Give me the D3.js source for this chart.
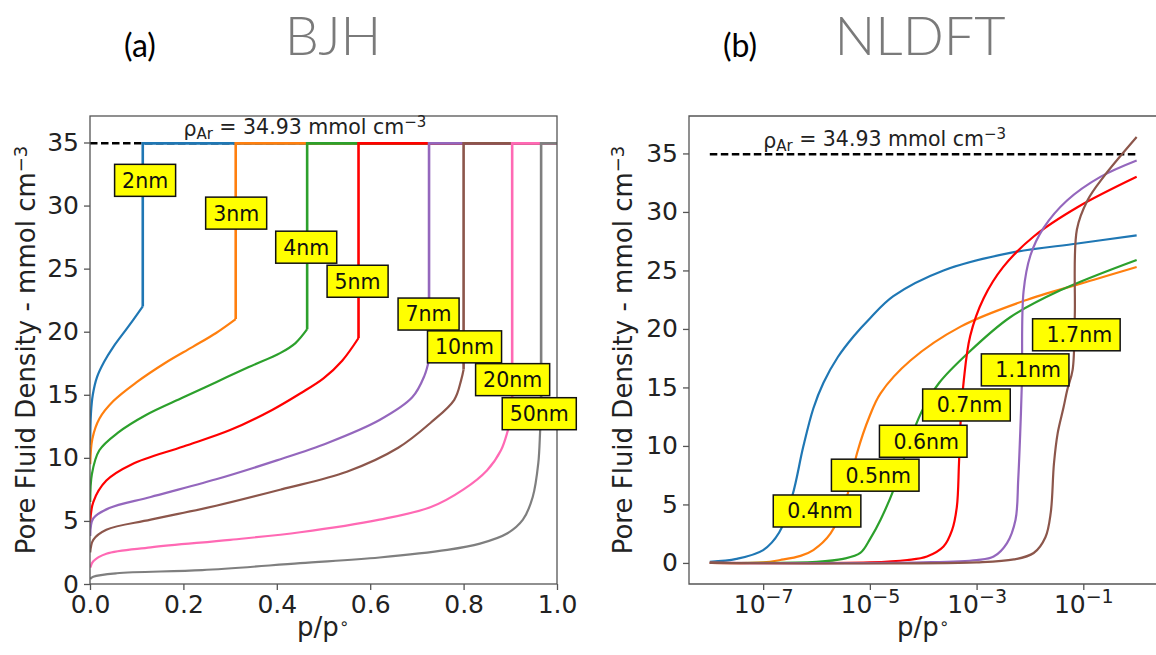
<!DOCTYPE html>
<html>
<head>
<meta charset="utf-8">
<script src="https://cdn.jsdelivr.net/npm/d3@7"></script>
<style>
  body { margin: 0; background: #fff; }
  svg { display: block; }
  text { font-family: "DejaVu Sans", Verdana, sans-serif; }
</style>
</head>
<body>
<div id="container"></div>
<script>
// DATA
// (a) BJH: pore size labels, pore filling pressures and isotherm points [p/p0, density]
const bjhPores = ['2nm', '3nm', '4nm', '5nm', '7nm', '10nm', '20nm', '50nm'];
const bjhColors = ['#1f77b4', '#ff7f0e', '#2ca02c', '#ff0000', '#9467bd', '#8c564b', '#ff69b4', '#7f7f7f'];
const bjhFilling = [0.113, 0.312, 0.465, 0.575, 0.726, 0.80, 0.904, 0.966];
const bjh2nm = [[0.0005, 11], [0.002, 13.5], [0.006, 15], [0.015, 16.4], [0.03, 17.6], [0.05, 18.8], [0.08, 20.3], [0.113, 22]];
const bjh3nm = [[0.0005, 9.5], [0.005, 11.5], [0.02, 13.1], [0.05, 14.5], [0.1, 16.0], [0.16, 17.5], [0.22, 18.8], [0.27, 19.9], [0.312, 21]];
const bjh4nm = [[0.0005, 6.5], [0.004, 8.7], [0.02, 10.6], [0.06, 12.0], [0.12, 13.4], [0.2, 14.8], [0.27, 16.0], [0.34, 17.2], [0.407, 18.3], [0.44, 19.1], [0.465, 20.2]];
const bjh5nm = [[0.0005, 4.8], [0.007, 6.5], [0.035, 8.2], [0.09, 9.5], [0.2, 10.9], [0.3, 12.2], [0.39, 13.8], [0.45, 15.1], [0.5, 16.3], [0.54, 17.7], [0.575, 19.5]];
const bjh7nm = [[0.0005, 3.8], [0.007, 5.2], [0.04, 6.0], [0.13, 6.9], [0.27, 8.3], [0.4, 9.8], [0.51, 11.2], [0.62, 13.0], [0.69, 14.8], [0.716, 16.5], [0.726, 17.8]];
const bjh10nm = [[0.0005, 2.5], [0.007, 3.5], [0.035, 4.3], [0.13, 5.1], [0.27, 6.2], [0.41, 7.5], [0.55, 8.9], [0.66, 10.8], [0.73, 12.8], [0.78, 14.6], [0.795, 16.2], [0.80, 17]];
const bjh20nm = [[0.0005, 1.3], [0.007, 1.8], [0.035, 2.4], [0.13, 2.9], [0.3, 3.5], [0.45, 4.1], [0.62, 5.1], [0.73, 6.1], [0.80, 7.5], [0.85, 9.0], [0.88, 10.6], [0.895, 12.2], [0.904, 13.5]];
const bjh50nm = [[0.0005, 0.4], [0.007, 0.58], [0.057, 0.85], [0.24, 1.1], [0.45, 1.65], [0.62, 2.1], [0.765, 2.7], [0.835, 3.2], [0.893, 4.0], [0.927, 5.1], [0.948, 6.9], [0.96, 9.6], [0.964, 12.2], [0.966, 13.5]];
const bjhCurves = [bjh2nm, bjh3nm, bjh4nm, bjh5nm, bjh7nm, bjh10nm, bjh20nm, bjh50nm];
const bjhLabelAt = [[0.118, 32], [0.313, 29.4], [0.463, 26.7], [0.573, 24], [0.725, 21.4], [0.802, 18.8], [0.905, 16.2], [0.962, 13.5]];

// (b) NLDFT: isotherm points [log10(p/p0), density]
const dftPores = ['0.4nm', '0.5nm', '0.6nm', '0.7nm', '1.1nm', '1.7nm'];
const dftColors = ['#1f77b4', '#ff7f0e', '#2ca02c', '#ff0000', '#9467bd', '#8c564b'];
const dft04 = [[-8, 0.1], [-7.5, 0.35], [-7, 1.1], [-6.7, 2.6], [-6.45, 5.8], [-6.25, 9.9], [-6.06, 13.2], [-5.87, 15.4], [-5.6, 17.6], [-5.3, 19.4], [-5, 20.9], [-4.56, 22.8], [-3.62, 25], [-2.37, 26.5], [-1.11, 27.3], [0, 28]];
const dft05 = [[-8, 0], [-7, 0.05], [-6.68, 0.25], [-6.3, 0.6], [-6.06, 1.1], [-5.74, 2.5], [-5.43, 5.7], [-5.24, 9.4], [-5.0, 12.6], [-4.8, 14.5], [-4.24, 17.3], [-3.3, 20.2], [-2.05, 22.5], [-0.8, 24.2], [0, 25.3]];
const dft06 = [[-8, 0], [-6, 0.1], [-5.5, 0.35], [-5.18, 0.85], [-4.99, 2.1], [-4.8, 3.7], [-4.56, 6.2], [-4.37, 8.8], [-4.19, 11.2], [-4.0, 13.2], [-3.7, 15.4], [-3.17, 17.9], [-2.37, 21.0], [-1.43, 23.3], [0, 25.9]];
const dft07 = [[-8, 0], [-5, 0.05], [-4.3, 0.25], [-3.93, 0.55], [-3.62, 1.4], [-3.46, 2.8], [-3.37, 4.8], [-3.33, 8.5], [-3.3, 12], [-3.24, 15.6], [-3.12, 19.4], [-2.87, 22.6], [-2.5, 25.3], [-1.93, 27.9], [-1.11, 30.4], [0, 33.0]];
const dft11 = [[-8, 0], [-4, 0.05], [-3, 0.25], [-2.68, 0.55], [-2.43, 1.7], [-2.27, 3.7], [-2.22, 7.1], [-2.18, 11.4], [-2.15, 15.6], [-2.12, 23.2], [-1.99, 26.3], [-1.75, 28.6], [-1.3, 31], [-0.68, 33], [0, 34.4]];
const dft17 = [[-8, 0], [-3, 0.05], [-2.3, 0.3], [-1.93, 0.85], [-1.71, 2.2], [-1.61, 4.3], [-1.55, 8.5], [-1.48, 11.1], [-1.37, 13.3], [-1.3, 14.8], [-1.2, 16.5], [-1.16, 21], [-1.12, 28.5], [-0.92, 31], [-0.62, 33], [0, 36.4]];
const dftCurves = [dft04, dft05, dft06, dft07, dft11, dft17];
const dftLabelAt = [[-5.99, 4.44], [-4.9, 7.5], [-4.0, 10.4], [-3.19, 13.5], [-2.09, 16.5], [-1.13, 19.5]];

const rhoAr = 34.93;
const bjhYTicks = [0, 5, 10, 15, 20, 25, 30, 35];
const bjhXTicks = [0, 0.2, 0.4, 0.6, 0.8, 1.0];
const dftYTicks = [0, 5, 10, 15, 20, 25, 30, 35];
const dftXExps = [-7, -5, -3, -1];

// LAYOUT
const width = 1156, height = 655;
const axisColor = '#555';
const tickFont = 25;

const svg = d3.select('#container').append('svg')
  .attr('width', width)
  .attr('height', height);

const xL = d3.scaleLinear([0, 1], [90, 557]);
const yL = d3.scaleLinear([0, 37.1], [584, 116]);
const xR = d3.scaleLog([10 ** -8.39, 10 ** 0.4], [689, 1158]);
const yR = d3.scaleLinear([-1.8, 38.2], [584, 116]);

svg.append('defs').call(d => {
  d.append('clipPath').attr('id', 'clipL').append('rect')
    .attr('x', 90).attr('y', 116).attr('width', 467).attr('height', 468);
  d.append('clipPath').attr('id', 'clipR').append('rect')
    .attr('x', 689).attr('y', 116).attr('width', 469).attr('height', 468);
});

// titles
function title(x, label) {
  svg.append('text').attr('x', x).attr('y', 57)
    .attr('text-anchor', 'middle')
    .style('font-family', 'Lato, "Open Sans", sans-serif')
    .style('font-size', '32px')
    .text(label);
}
function method(x, label) {
  svg.append('text').attr('x', x).attr('y', 55)
    .attr('text-anchor', 'middle')
    .style('font-family', 'Lato, "Open Sans", sans-serif')
    .style('font-weight', 300)
    .style('font-size', '54px')
    .attr('fill', '#7a7a7a')
    .text(label);
}
title(140, '(a)');
title(740, '(b)');
method(333, 'BJH');
method(920, 'NLDFT');

function styleAxis(g) {
  g.select('.domain').remove();
  g.selectAll('.tick line').attr('stroke', axisColor).attr('stroke-width', 1.3);
  g.selectAll('.tick text').attr('fill', '#222').style('font-size', tickFont + 'px');
}

function yLabel(x) {
  const t = svg.append('text')
    .attr('transform', `translate(${x},350) rotate(-90)`)
    .attr('text-anchor', 'middle')
    .attr('fill', '#222')
    .style('font-size', '26px');
  t.append('tspan').text('Pore Fluid Density - mmol cm');
  t.append('tspan').attr('dy', '-0.45em').style('font-size', '18px').text('\u22123');
}

function xLabel(x) {
  const t = svg.append('text')
    .attr('x', x).attr('y', 636)
    .attr('text-anchor', 'middle')
    .attr('fill', '#222')
    .style('font-size', '26px');
  t.append('tspan').text('p/p');
  t.append('tspan').attr('dy', '-0.45em').style('font-size', '16px').text('\u2218');
}

function rhoText(g, x, y) {
  const t = g.append('text')
    .attr('x', x).attr('y', y)
    .attr('fill', '#222')
    .style('font-size', '20.5px');
  t.append('tspan').text('\u03c1');
  t.append('tspan').attr('dy', '0.25em').style('font-size', '15px').text('Ar');
  t.append('tspan').attr('dy', '-0.25em').text(' = 34.93 mmol cm');
  t.append('tspan').attr('dy', '-0.5em').style('font-size', '15px').text('\u22123');
}

function boxLabel(g, cx, cy, label, padL, padR) {
  const lg = g.append('g');
  const t = lg.append('text')
    .attr('y', cy)
    .attr('dy', '0.36em')
    .attr('fill', '#111')
    .style('font-size', '20.5px')
    .text(label);
  const w = t.node().getComputedTextLength();
  const bw = w + padL + padR;
  lg.insert('rect', 'text')
    .attr('x', cx - bw / 2).attr('y', cy - 16)
    .attr('width', bw).attr('height', 32)
    .attr('fill', '#ffff00')
    .attr('stroke', '#111')
    .attr('stroke-width', 1.5);
  t.attr('x', cx - bw / 2 + padL);
}

// (a) BJH panel
const gL = svg.append('g');
gL.append('g').attr('transform', 'translate(90,0)')
  .call(d3.axisLeft(yL).tickValues(bjhYTicks).tickSize(6).tickPadding(5))
  .call(styleAxis);
gL.append('g').attr('transform', 'translate(0,584)')
  .call(d3.axisBottom(xL).tickValues(bjhXTicks).tickFormat(d3.format('.1f')).tickSize(6).tickPadding(5))
  .call(styleAxis);

const plotL = gL.append('g').attr('clip-path', 'url(#clipL)');
plotL.append('line')
  .attr('x1', xL(0)).attr('x2', xL(1))
  .attr('y1', yL(rhoAr)).attr('y2', yL(rhoAr))
  .attr('stroke', '#000').attr('stroke-width', 2.5)
  .attr('stroke-dasharray', '7.5,3.5');

const curveL = d3.line().x(d => xL(d[0])).y(d => yL(d[1])).curve(d3.curveCatmullRom.alpha(0.5));
const stepL = d3.line().x(d => xL(d[0])).y(d => yL(d[1]));
bjhCurves.forEach((pts, i) => {
  const last = pts[pts.length - 1];
  const f = bjhFilling[i];
  plotL.append('path').attr('d', curveL(pts))
    .attr('fill', 'none').attr('stroke', bjhColors[i]).attr('stroke-width', 2.2);
  plotL.append('path').attr('d', stepL([[f, last[1]], [f, rhoAr], [1, rhoAr]]))
    .attr('fill', 'none').attr('stroke', bjhColors[i]).attr('stroke-width', 2.6);
});

gL.append('rect')
  .attr('x', 90).attr('y', 116).attr('width', 467).attr('height', 468)
  .attr('fill', 'none').attr('stroke', axisColor).attr('stroke-width', 1.3);

rhoText(gL, xL(0.2), yL(35.55));
bjhPores.forEach((name, i) => {
  boxLabel(gL, xL(bjhLabelAt[i][0]), yL(bjhLabelAt[i][1]), name, 7.5, 7.5);
});

yLabel(35);
xLabel(323);

// (b) NLDFT panel
const gR = svg.append('g');
gR.append('g').attr('transform', 'translate(689,0)')
  .call(d3.axisLeft(yR).tickValues(dftYTicks).tickSize(6).tickPadding(5))
  .call(styleAxis);
const xAxisR = gR.append('g').attr('transform', 'translate(0,584)')
  .call(d3.axisBottom(xR).tickValues(dftXExps.map(e => 10 ** e)).tickFormat(() => '').tickSize(6).tickPadding(5))
  .call(styleAxis);
xAxisR.selectAll('.tick text').each(function (d) {
  const t = d3.select(this);
  const e = Math.round(Math.log10(d));
  t.append('tspan').text('10');
  t.append('tspan').attr('dy', '-0.5em').style('font-size', '19px').text('\u2212' + Math.abs(e));
});

const plotR = gR.append('g').attr('clip-path', 'url(#clipR)');
plotR.append('line')
  .attr('x1', xR(1e-8)).attr('x2', xR(1))
  .attr('y1', yR(rhoAr)).attr('y2', yR(rhoAr))
  .attr('stroke', '#000').attr('stroke-width', 2.5)
  .attr('stroke-dasharray', '7.5,3.5');

const curveR = d3.line().x(d => xR(10 ** d[0])).y(d => yR(d[1])).curve(d3.curveCatmullRom.alpha(0.5));
dftCurves.forEach((pts, i) => {
  plotR.append('path').attr('d', curveR(pts))
    .attr('fill', 'none').attr('stroke', dftColors[i]).attr('stroke-width', 2.2);
});

gR.append('path')
  .attr('d', `M1160,116H689V584H1160`)
  .attr('fill', 'none').attr('stroke', axisColor).attr('stroke-width', 1.3);

rhoText(gR, xR(1e-7), yR(35.5));
dftPores.forEach((name, i) => {
  boxLabel(gR, xR(10 ** dftLabelAt[i][0]), yR(dftLabelAt[i][1]), name, 14, 8);
});

yLabel(632);
xLabel(923);
</script>
</body>
</html>
